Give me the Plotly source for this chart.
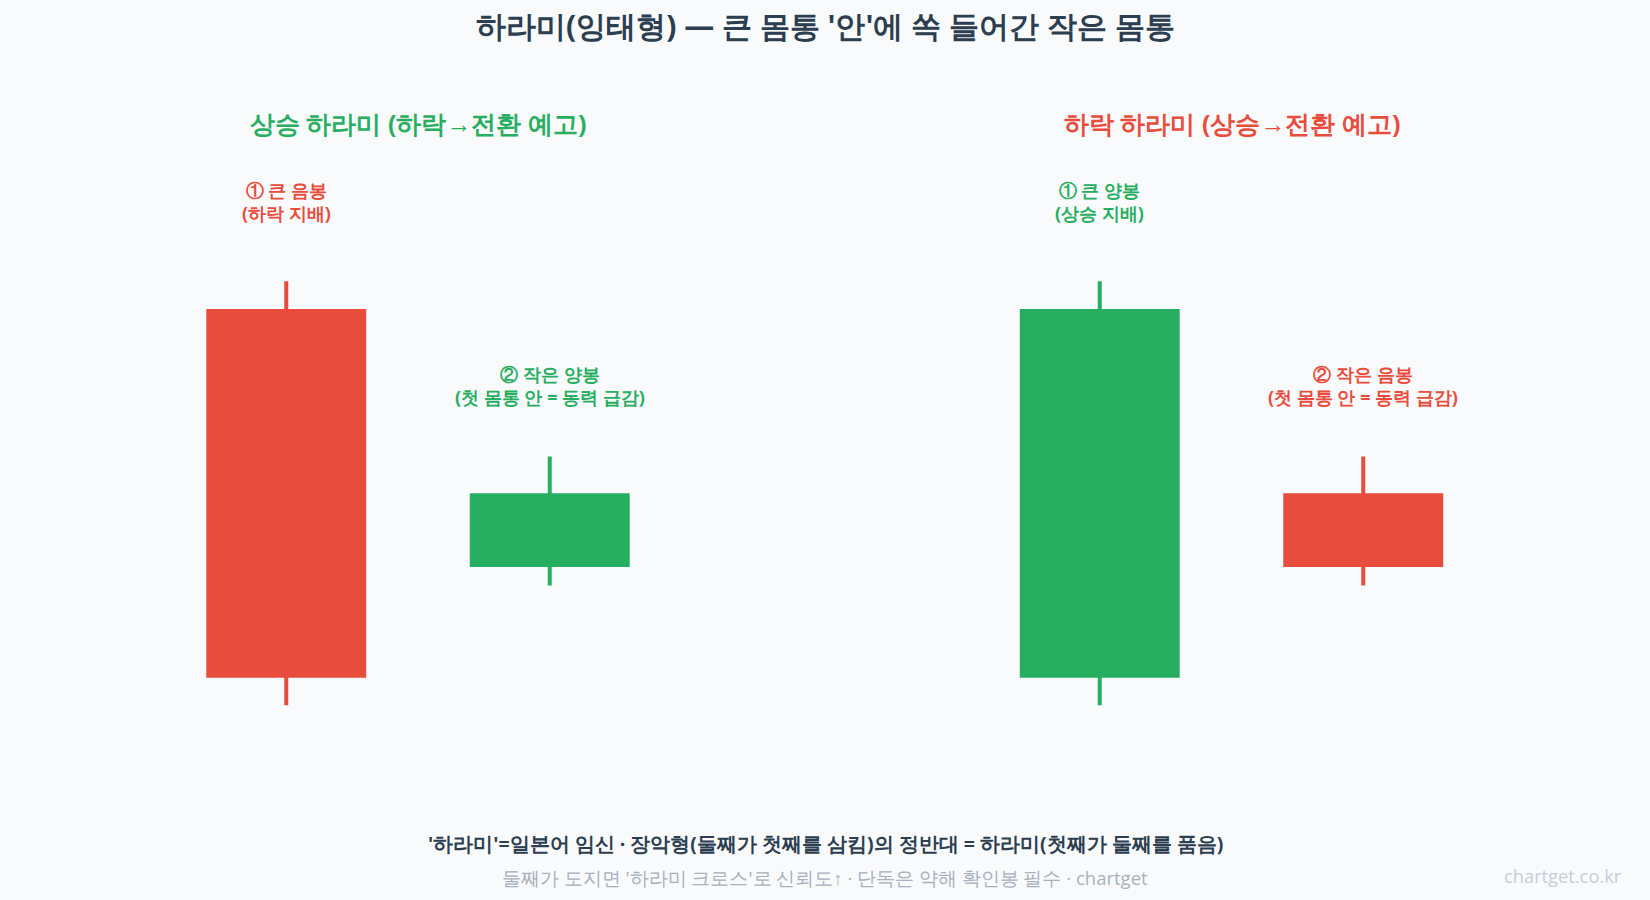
import plotly.graph_objects as go

# ---- data ----
x_pos = [0, 1]
left_open = [108, 80]
left_close = [68, 88]
left_high = [111, 92]
left_low = [65, 78]
right_open = [68, 88]
right_close = [108, 80]
right_high = [111, 92]
right_low = [65, 78]
left_labels = ["① 큰 음봉<br>(하락 지배)", "② 작은 양봉<br>(첫 몸통 안 = 동력 급감)"]
right_labels = ["① 큰 양봉<br>(상승 지배)", "② 작은 음봉<br>(첫 몸통 안 = 동력 급감)"]
panel_titles = ["상승 하라미 (하락→전환 예고)", "하락 하라미 (상승→전환 예고)"]
title_text = "하라미(잉태형) — 큰 몸통 '안'에 쏙 들어간 작은 몸통"
note_text = "'하라미'=일본어 임신 · 장악형(둘째가 첫째를 삼킴)의 정반대 = 하라미(첫째가 둘째를 품음)"
foot_text = "둘째가 도지면 '하라미 크로스'로 신뢰도↑ · 단독은 약해 확인봉 필수 · chartget"
watermark = "chartget.co.kr"

RED = "#e74c3c"
GREEN = "#27ae60"
BG = "#f9fafc"
DARK = "#2c3e50"
FONT = '"Open Sans", verdana, arial, sans-serif'

fig = go.Figure()
annotations = []

panels = [
    ("x", "y", left_open, left_close, left_high, left_low, left_labels, panel_titles[0], GREEN),
    ("x2", "y2", right_open, right_close, right_high, right_low, right_labels, panel_titles[1], RED),
]

LABEL_OFFSET = 11.7  # label centre above body top, in price units

for xa, ya, o, c, h, l, labels, ptitle, tcolor in panels:
    colors = [GREEN if cc > oo else RED for oo, cc in zip(o, c)]
    # wicks
    for i, xv in enumerate(x_pos):
        fig.add_trace(go.Scatter(
            x=[xv, xv], y=[l[i], h[i]], mode="lines",
            line=dict(color=colors[i], width=4),
            xaxis=xa, yaxis=ya, showlegend=False, hoverinfo="skip"))
    # bodies
    fig.add_trace(go.Bar(
        x=x_pos, y=[cc - oo for oo, cc in zip(o, c)], base=o,
        width=0.607, marker=dict(color=colors, line=dict(width=0)),
        xaxis=xa, yaxis=ya, showlegend=False))
    for i, xv in enumerate(x_pos):
        top = max(o[i], c[i])
        annotations.append(dict(
            x=xv, y=top + LABEL_OFFSET, xref=xa, yref=ya, text="<b>" + labels[i] + "</b>",
            showarrow=False, yanchor="middle", xanchor="center", align="center",
            font=dict(family=FONT, size=18, color=colors[i])))
    annotations.append(dict(
        x=0.5, y=1 - 123 / 900, xref=xa + " domain", yref="paper",
        text="<b>" + ptitle + "</b>", showarrow=False, yanchor="middle",
        font=dict(family=FONT, size=25, color=tcolor)))

annotations += [
    dict(x=0.5, y=1 - 26 / 900, xref="paper", yref="paper", text="<b>" + title_text + "</b>",
         showarrow=False, yanchor="middle", font=dict(family=FONT, size=30, color=DARK)),
    dict(x=0.5, y=1 - 843 / 900, xref="paper", yref="paper", text="<b>" + note_text + "</b>",
         showarrow=False, yanchor="middle", font=dict(family=FONT, size=19.5, color=DARK)),
    dict(x=0.5, y=1 - 877.5 / 900, xref="paper", yref="paper", text=foot_text,
         showarrow=False, yanchor="middle", font=dict(family=FONT, size=18.5, color="#a9b0bd")),
    dict(x=1624 / 1650, y=1 - 875 / 900, xref="paper", yref="paper", text=watermark,
         showarrow=False, yanchor="middle", xanchor="right",
         font=dict(family=FONT, size=18.3, color="#c8ccd6")),
]

yr = [43.88, 141.52]
fig.update_layout(
    width=1650, height=900,
    margin=dict(l=0, r=0, t=0, b=0),
    paper_bgcolor=BG, plot_bgcolor=BG,
    xaxis=dict(domain=[154.5 / 1650, 681.5 / 1650], range=[-0.5, 1.5], visible=False),
    xaxis2=dict(domain=[968 / 1650, 1495 / 1650], range=[-0.5, 1.5], visible=False),
    yaxis=dict(domain=[0, 1], range=yr, visible=False, anchor="x"),
    yaxis2=dict(domain=[0, 1], range=yr, visible=False, anchor="x2"),
    annotations=annotations,
    showlegend=False,
    barmode="overlay",
)

fig.write_html("out.html")
